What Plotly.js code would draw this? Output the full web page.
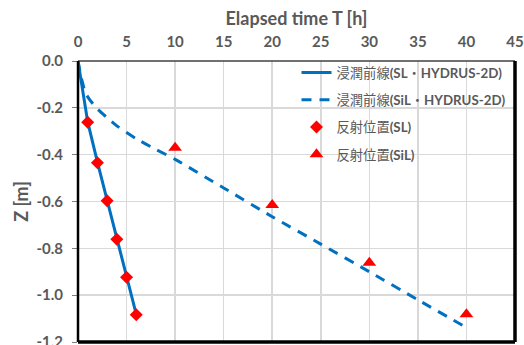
<!DOCTYPE html>
<html>
<head>
<meta charset="utf-8">
<script src="https://cdn.plot.ly/plotly-3.0.1.min.js"></script>
<style>
html,body{margin:0;padding:0;background:#fff;}
#chart{width:524px;height:345px;}
</style>
</head>
<body>
<div id="chart"></div>
<script>
// Wetting front computed by HYDRUS-2D (SL)
const slFrontT = [0, 1, 2, 3, 4, 5, 6];
const slFrontZ = [0, -0.26, -0.432, -0.596, -0.76, -0.922, -1.082];
// Wetting front computed by HYDRUS-2D (SiL)
const silFrontT = [0, 0.25, 0.5, 0.75, 1.2, 2, 3, 4, 6, 8, 10, 15, 20, 25, 30, 35, 40];
const silFrontZ = [0, -0.055, -0.098, -0.135, -0.165, -0.205, -0.242, -0.277, -0.332, -0.377, -0.42, -0.542, -0.665, -0.782, -0.9, -1.02, -1.138];
// Reflection positions (measured)
const slReflT = [1, 2, 3, 4, 5, 6];
const slReflZ = [-0.262, -0.435, -0.597, -0.761, -0.923, -1.084];
const silReflT = [10, 20, 30, 40];
const silReflZ = [-0.37, -0.615, -0.862, -1.081];

const seriesNames = [
  '浸潤前線<b>(SL</b>・<b>HYDRUS-2D)</b>',
  '浸潤前線<b>(SiL</b>・<b>HYDRUS-2D)</b>',
  '反射位置<b>(SL)</b>',
  '反射位置<b>(SiL)</b>'
];
const xTickVals = [0, 5, 10, 15, 20, 25, 30, 35, 40, 45];
const yTickVals = [0, -0.2, -0.4, -0.6, -0.8, -1.0, -1.2];
const yTickText = ['0.0', '-0.2', '-0.4', '-0.6', '-0.8', '-1.0', '-1.2'];

const blue = '#0070C0';
const red = '#FF0000';
const gray = '#595959';
const fontFam = 'Lato, "Noto Sans CJK JP", sans-serif';

const traces = [
  {x: slFrontT, y: slFrontZ, name: seriesNames[0], mode: 'lines', legendgroup: 'a',
   line: {color: blue, width: 3}},
  {x: silFrontT, y: silFrontZ, name: seriesNames[1], mode: 'lines', legendgroup: 'b',
   line: {color: blue, width: 3, dash: '10px,8px', shape: 'spline', smoothing: 0.6}},
  {x: slReflT, y: slReflZ, name: seriesNames[2], mode: 'markers', legendgroup: 'c',
   marker: {color: red, symbol: 'diamond', size: 10}},
  {x: silReflT, y: silReflZ, name: seriesNames[3], mode: 'markers', legendgroup: 'd',
   marker: {color: red, symbol: 'triangle-up', size: 12}}
];

const layout = {
  width: 524, height: 345,
  margin: {l: 78, r: 9, t: 61, b: 3},
  paper_bgcolor: '#fff', plot_bgcolor: '#fff',
  font: {family: fontFam, color: gray, size: 13},
  showlegend: true,
  legend: {
    x: 0.5, y: 1.013, xanchor: 'left', yanchor: 'top',
    bgcolor: 'rgba(0,0,0,0)', borderwidth: 0,
    traceorder: 'grouped', tracegroupgap: 7,
    font: {family: fontFam, size: 13.3, color: gray}
  },
  xaxis: {
    side: 'top', range: [0, 45], tickvals: xTickVals,
    showgrid: true, gridcolor: '#D9D9D9', gridwidth: 1.5,
    zeroline: false, showline: false, ticks: '', ticklabelstandoff: 10,
    ticklabeloverflow: 'allow',
    tickfont: {family: fontFam, size: 15, color: gray, weight: 'bold'},
    title: {text: '<b>Elapsed time T [h]</b>', font: {family: fontFam, size: 18, color: gray}, standoff: 1}
  },
  yaxis: {
    range: [-1.2, 0], tickvals: yTickVals, ticktext: yTickText,
    showgrid: true, gridcolor: '#D9D9D9', gridwidth: 1.5,
    zeroline: false, showline: false, ticks: 'outside', ticklen: 5, tickcolor: '#7F7F7F',
    ticklabelstandoff: 6, ticklabeloverflow: 'allow',
    tickfont: {family: fontFam, size: 15, color: gray, weight: 'bold'},
    title: {text: '<b>Z [m]</b>', font: {family: fontFam, size: 18, color: gray}, standoff: 3}
  },
  shapes: [
    {type: 'line', xref: 'paper', yref: 'paper', x0: 0, x1: 1, y0: 1, y1: 1, line: {color: '#404040', width: 1.5}},
    {type: 'line', xref: 'paper', yref: 'paper', x0: 0, x1: 0, y0: 0, y1: 1, line: {color: '#000', width: 2.5}},
    {type: 'line', xref: 'paper', yref: 'paper', x0: 1, x1: 1, y0: 0, y1: 1, line: {color: '#000', width: 3.5}},
    {type: 'line', xref: 'paper', yref: 'paper', x0: 0, x1: 1, y0: 0, y1: 0, line: {color: '#000', width: 3.5}}
  ]
};

Plotly.newPlot('chart', traces, layout, {displayModeBar: false, staticPlot: true});
</script>
</body>
</html>
